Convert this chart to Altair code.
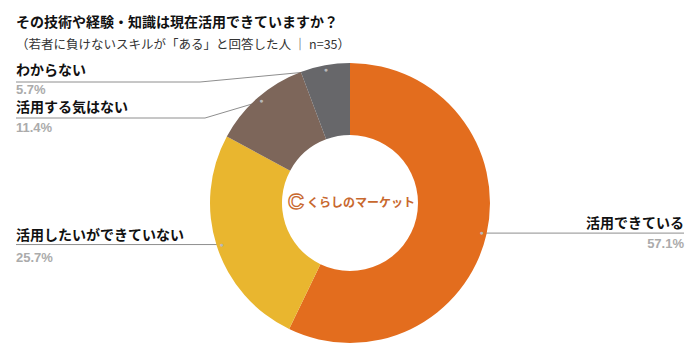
import math
import altair as alt
import pandas as pd

# ---- data ----
categories = ["活用できている", "活用したいができていない", "活用する気はない", "わからない"]
values = [57.1, 25.7, 11.4, 5.7]
colors = ["#E36D1E", "#E9B62F", "#7D665A", "#67676A"]

title = "その技術や経験・知識は現在活用できていますか？"
subtitle = "（若者に負けないスキルが「ある」と回答した人 ｜ n=35）"
logo = "くらしのマーケット"

# ---- layout (image pixel coordinates) ----
W, H, M = 684, 341, 8
CX, CY = 350, 203
R_OUT, R_IN, R_DOT = 140, 68, 135
# per category: text x, name y, pct y, align, horizontal leader y (None = dot y), elbow x
label_layout = {
    "活用できている": (684, 224, 244, "right", None, None),
    "活用したいができていない": (16, 236, 258, "left", None, None),
    "活用する気はない": (16, 108, 128, "left", 118, 205),
    "わからない": (16, 71, 90, "left", 82, 200),
}

df = pd.DataFrame({"cat": categories, "value": values, "order": range(len(values))})
total = sum(values)
cum = 0
dots = {}
for c, v in zip(categories, values):
    mid = (cum + v / 2) / total
    cum += v
    a = 2 * math.pi * mid
    dots[c] = (CX + R_DOT * math.sin(a), CY - R_DOT * math.cos(a))

line_rows, name_rows, pct_rows = [], [], []
for c, v in zip(categories, values):
    tx, ny, py, al, ly, ex = label_layout[c]
    dx, dy = dots[c]
    if al == "right":
        pts = [(dx, dy), (tx, dy)]
    elif ly is None:
        pts = [(tx, dy), (dx, dy)]
    else:
        pts = [(tx, ly), (ex, ly), (dx, dy)]
    for i, (px, pyy) in enumerate(pts):
        line_rows.append({"cat": c, "seq": i, "x": px, "y": pyy})
    name_rows.append({"cat": c, "x": tx, "y": ny, "align": al})
    pct_rows.append({"cat": c, "x": tx, "y": py, "align": al, "pct": f"{v:.1f}%"})

lines_df = pd.DataFrame(line_rows)
names_df = pd.DataFrame(name_rows)
pcts_df = pd.DataFrame(pct_rows)

xs = alt.Scale(domain=[M, M + W], range=[0, W], nice=False, zero=False)
ys = alt.Scale(domain=[M, M + H], range=[0, H], nice=False, zero=False)

def X(f="x"):
    return alt.X(f"{f}:Q", scale=xs, axis=None)

def Y(f="y"):
    return alt.Y(f"{f}:Q", scale=ys, axis=None)

lines = alt.Chart(lines_df).mark_line(color="#8E8E8E", strokeWidth=1).encode(
    x=X(), y=Y(), detail="cat:N", order="seq:Q"
)

arc = alt.Chart(df).mark_arc(radius=R_OUT, radius2=R_IN).encode(
    theta=alt.Theta("value:Q", stack=True),
    order=alt.Order("order:Q"),
    color=alt.Color("cat:N", scale=alt.Scale(domain=categories, range=colors), legend=None),
    x=alt.value(CX - M),
    y=alt.value(CY - M),
)

dot_layer = alt.Chart(df).mark_text(
    radius=R_DOT, text="●", fontSize=7, color="#B8B8B8", baseline="middle", align="center"
).encode(
    theta=alt.Theta("value:Q", stack=True),
    order=alt.Order("order:Q"),
    x=alt.value(CX - M),
    y=alt.value(CY - M),
)

def name_layer(al):
    return alt.Chart(names_df[names_df["align"] == al]).mark_text(
        align=al, baseline="middle", font="Noto Sans CJK JP", fontSize=14,
        fontWeight="bold", color="#111111"
    ).encode(x=X(), y=Y(), text="cat:N")

def pct_layer(al):
    return alt.Chart(pcts_df[pcts_df["align"] == al]).mark_text(
        align=al, baseline="middle", font="Liberation Sans", fontSize=13,
        fontWeight="bold", color="#ABABAB"
    ).encode(x=X(), y=Y(), text="pct:N")

title_df = pd.DataFrame({"t": [title], "x": [16], "y": [23]})
sub_df = pd.DataFrame({"t": [subtitle], "x": [16], "y": [45]})
title_layer = alt.Chart(title_df).mark_text(
    align="left", baseline="middle", font="Noto Sans CJK JP", fontSize=14,
    fontWeight="bold", color="#111111"
).encode(x=X(), y=Y(), text="t:N")
sub_layer = alt.Chart(sub_df).mark_text(
    align="left", baseline="middle", font="Noto Sans CJK JP", fontSize=12.5,
    color="#333333"
).encode(x=X(), y=Y(), text="t:N")

logo_df = pd.DataFrame({"t": [logo], "x": [307], "y": [203]})
logo_layer = alt.Chart(logo_df).mark_text(
    align="left", baseline="middle", font="Noto Sans CJK JP", fontSize=12,
    fontWeight="bold", color="#C8682E"
).encode(x=X(), y=Y(), text="t:N")
icon_df = pd.DataFrame({"t": ["C"], "x": [296], "y": [202]})
icon_layer = alt.Chart(icon_df).mark_text(
    align="center", baseline="middle", font="Liberation Sans", fontSize=22,
    fontWeight="bold", fill="white", stroke="#C8682E", strokeWidth=1.3
).encode(x=X(), y=Y(), text="t:N")

chart = alt.layer(
    lines, arc, dot_layer,
    name_layer("left"), name_layer("right"), pct_layer("left"), pct_layer("right"),
    title_layer, sub_layer, logo_layer, icon_layer,
).properties(
    width=W, height=H, padding=0, autosize=alt.AutoSizeParams(type="none")
).configure_view(stroke=None)

chart.save("out.html", embed_options={"renderer": "svg", "actions": False})
